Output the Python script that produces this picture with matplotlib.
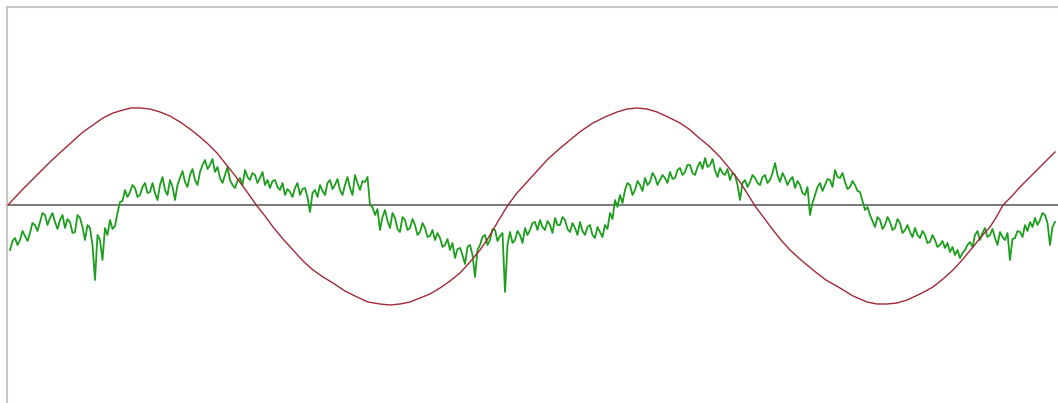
import numpy as np
import matplotlib
matplotlib.use("Agg")
import matplotlib.pyplot as plt

# red reference wave (time, height above baseline)
red_t = [8, 22, 37, 50, 63, 73, 83, 93, 103, 113, 123, 131, 140, 150, 160, 170,
         180, 190, 200, 208, 217, 225, 233, 245, 257, 265, 273, 283, 293, 303,
         313, 323, 333, 345, 357, 368, 380, 390, 400, 410, 420, 430, 440, 450,
         460, 470, 480, 487, 493, 500, 508, 517, 527, 537, 547, 558, 570, 581,
         593, 605, 617, 627, 637, 647, 657, 668, 680, 689, 698, 709, 720, 730,
         740, 747, 755, 764, 773, 781, 790, 801, 813, 826, 840, 853, 867, 877,
         887, 897, 907, 920, 933, 943, 953, 963, 973, 981, 990, 997, 1003, 1012,
         1020, 1028, 1037, 1046, 1055]
red_v = [0, 15, 30, 43, 55, 64, 73, 80, 87, 92, 95, 97, 97, 96, 93, 89,
         83, 76, 68, 61, 52, 42, 32, 16, -1, -11, -22, -34, -45, -56,
         -65, -72, -78, -86, -92, -97, -99, -100, -99, -97, -93, -89, -83, -76,
         -68, -57, -45, -35, -25, -13, 0, 12, 23, 34, 45, 55, 65, 74,
         82, 88, 93, 96, 97, 96, 93, 88, 82, 76, 68, 59, 48, 36,
         23, 12, -1, -13, -25, -35, -45, -55, -65, -75, -83, -91, -97, -99,
         -99, -98, -95, -89, -82, -74, -65, -54, -42, -32, -22, -11, 0, 9,
         18, 26, 35, 44, 53]

# green measured signal, one reading every 2.5 time units starting at t=10
green_t0 = 10
green_dt = 2.5
green_v = [
    -45, -36, -33, -40, -35, -26, -31, -36, -28, -18, -20, -26, -17, -8, -10, -20,
    -13, -8, -17, -24, -15, -10, -23, -14, -17, -28, -27, -10, -13, -22, -35, -20,
    -23, -40, -75, -30, -35, -55, -23, -30, -15, -24, -21, -8, 3, 4, 15, 8,
    13, 20, 17, 8, 10, 18, 22, 12, 13, 22, 12, 5, 20, 28, 15, 10,
    25, 18, 5, 20, 27, 34, 23, 18, 30, 36, 25, 20, 33, 40, 45, 36,
    40, 46, 33, 38, 27, 22, 30, 38, 25, 20, 17, 24, 27, 20, 35, 28,
    25, 32, 30, 22, 27, 33, 20, 25, 17, 24, 25, 18, 15, 22, 10, 16,
    13, 8, 17, 22, 10, 16, 17, 8, -7, 12, 15, 8, 20, 14, 10, 22,
    25, 16, 20, 26, 15, 10, 20, 28, 17, 10, 30, 22, 15, 24, 23, 28,
    0, -2, -10, -4, -25, -12, -5, -16, -23, -8, -13, -24, -27, -12, -15, -25,
    -23, -14, -20, -30, -27, -18, -23, -32, -31, -25, -35, -28, -33, -42, -40, -34,
    -45, -38, -53, -44, -43, -50, -59, -42, -40, -50, -72, -45, -40, -32, -30, -40,
    -35, -24, -25, -36, -31, -28, -87, -40, -27, -38, -35, -26, -30, -38, -23, -30,
    -25, -18, -17, -25, -15, -22, -25, -16, -20, -28, -13, -20, -20, -12, -15, -24,
    -27, -18, -23, -30, -17, -26, -30, -22, -20, -30, -33, -22, -27, -32, -20, -24,
    -8, -14, 5, -2, 10, 2, 15, 22, 20, 10, 15, 24, 20, 14, 27, 20,
    23, 32, 28, 20, 25, 30, 27, 22, 33, 26, 27, 35, 37, 30, 33, 40,
    40, 32, 30, 38, 43, 36, 47, 38, 40, 46, 35, 28, 37, 32, 30, 36,
    25, 32, 30, 20, 5, 22, 25, 18, 23, 30, 27, 22, 20, 28, 30, 22,
    25, 32, 42, 30, 23, 32, 27, 20, 25, 28, 17, 24, 20, 12, 10, 18,
    -10, 2, 10, 18, 22, 14, 20, 26, 25, 18, 35, 28, 27, 32, 23, 16,
    18, 24, 20, 14, 13, 4, -5, -2, -10, -16, -22, -12, -15, -24, -20, -12,
    -17, -25, -23, -14, -18, -28, -25, -20, -27, -32, -23, -30, -33, -26, -30, -38,
    -37, -30, -35, -42, -40, -36, -43, -38, -47, -42, -50, -45, -53, -48, -45, -40,
    -37, -42, -30, -26, -35, -28, -23, -32, -30, -24, -33, -40, -27, -32, -35, -28,
    -55, -34, -33, -26, -27, -32, -20, -26, -17, -22, -13, -20, -15, -8, -10, -18,
    -40, -22, -17,
]
green_t = green_t0 + green_dt * np.arange(len(green_v))

fig = plt.figure(figsize=(10.58, 4.03), dpi=100)
ax = fig.add_axes([7 / 1058, 0, 1 - 7 / 1058, 396 / 403])

ax.axhline(0, color="#6e6e6e", lw=1.3, zorder=1)
ax.plot(green_t, green_v, color="#1e9e1e", lw=1.3, zorder=2)
ax.plot(red_t, red_v, color="#a02838", lw=1.0, zorder=3)

ax.set_xlim(7, 1058)
ax.set_ylim(-198, 198)
ax.set_xticks([])
ax.set_yticks([])
for s in ["right", "bottom"]:
    ax.spines[s].set_visible(False)
for s in ["left", "top"]:
    ax.spines[s].set_color("#c8c8c8")
    ax.spines[s].set_linewidth(1.5)

fig.savefig("out.png", dpi=100)
